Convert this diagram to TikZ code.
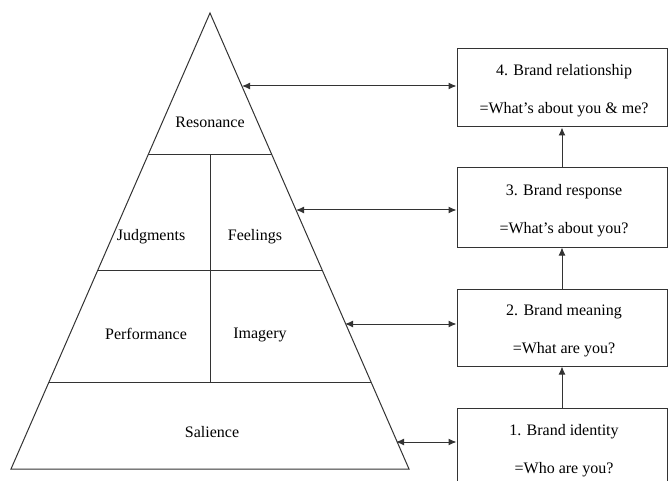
\documentclass[tikz,border=0pt]{standalone}
\usepackage{fontspec}
\setmainfont{Liberation Serif}
\usetikzlibrary{arrows.meta}
\begin{document}
\begin{tikzpicture}[x=1pt,y=-1pt,
  edge/.style={draw=black!80, line width=1pt},
  lbl/.style={inner sep=0pt, font=\fontsize{16}{18}\selectfont},
  bbox/.style={draw=black!80, line width=1pt, rectangle, inner sep=0pt, minimum width=210pt},
  dbl/.style={edge, {Latex[length=8pt,width=7pt]}-{Latex[length=8pt,width=7pt]}},
  up/.style={edge, -{Latex[length=8pt,width=7pt]}}]
\useasboundingbox (0,0) rectangle (669,481);
\clip (0,0) rectangle (669,481);
% pyramid
\coordinate (apex) at (210,13);
\coordinate (bl) at (11,469);
\coordinate (br) at (409,469);
\draw[edge, line join=miter] (apex) -- (br) -- (bl) -- cycle;
\draw[edge] (148,155) -- (272,155);
\draw[edge] (98,270) -- (322,270);
\draw[edge] (49,382) -- (371,382);
\draw[edge] (210,155) -- (210,382);
\node[lbl] (res) at (210,122) {Resonance};
\node[lbl] (jud) at (151,237) {Judgments};
\node[lbl] (fee) at (255,237) {Feelings};
\node[lbl] (per) at (146,334) {Performance};
\node[lbl] (ima) at (260,335) {Imagery};
\node[lbl] (sal) at (212,432) {Salience};
% boxes
\node[bbox, minimum height=78pt] (b4) at (562,88) {};
\node[bbox, minimum height=79pt] (b3) at (562,207.5) {};
\node[bbox, minimum height=77pt] (b2) at (562,327.5) {};
\node[bbox, minimum height=78pt] (b1) at (562,447) {};
\node[lbl] (b4a) at (564,72) {4. Brand relationship};
\node[lbl] (b4b) at (564,110) {=What's about you \& me?};
\node[lbl] (b3a) at (564,192) {3. Brand response};
\node[lbl] (b3b) at (564,230) {=What's about you?};
\node[lbl] (b2a) at (564,312) {2. Brand meaning};
\node[lbl] (b2b) at (564,350) {=What are you?};
\node[lbl] (b1a) at (564,432) {1. Brand identity};
\node[lbl] (b1b) at (564,470) {=Who are you?};
% arrows
\coordinate (p4) at (242,86);
\coordinate (p3) at (296,210);
\coordinate (p2) at (345,324);
\coordinate (p1) at (396,442);
\draw[dbl] (p4) -- (p4 -| b4.west);
\draw[dbl] (p3) -- (p3 -| b3.west);
\draw[dbl] (p2) -- (p2 -| b2.west);
\draw[dbl] (p1) -- (p1 -| b1.west);
\draw[up] (b1.north) -- (b2.south);
\draw[up] (b2.north) -- (b3.south);
\draw[up] (b3.north) -- (b4.south);
\end{tikzpicture}
\end{document}
